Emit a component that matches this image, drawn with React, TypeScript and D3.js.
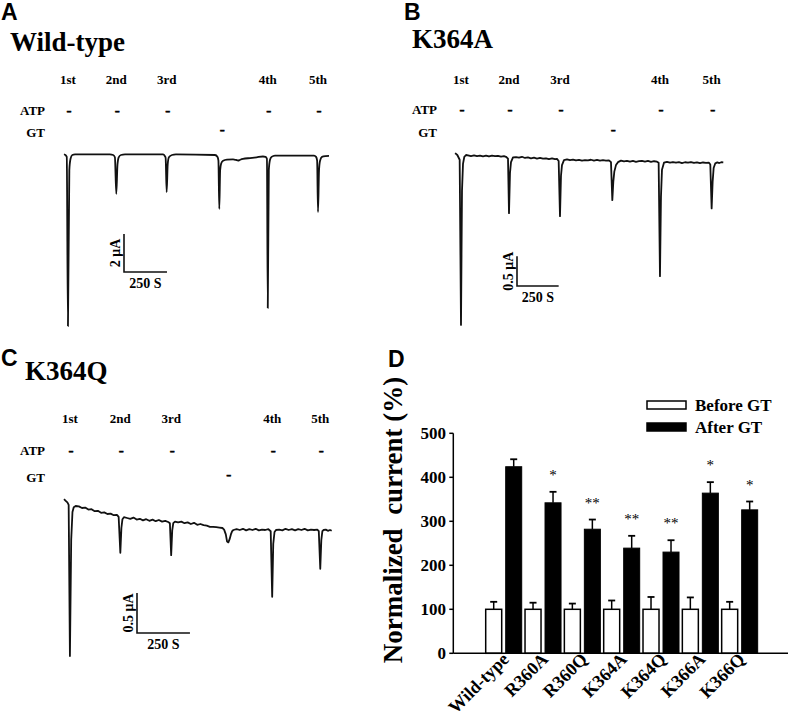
import React from 'react';
import * as d3 from 'd3';

const SERIF = '"Liberation Serif","Times New Roman",Times,serif';
const SANS = '"Liberation Sans",Arial,Helvetica,sans-serif';

// ---------- Panels A-C : current traces (time in s, current in µA) ----------
const pulseLabels = ['1st', '2nd', '3rd', '4th', '5th'];

const traceWT: [number, number][] = [
  [0, 0.04], [8, 0.0], [16, -0.1], [23, -9.0], [31, -0.8], [38, -0.2], [48, 0.0], [64, 0.03],
  [150, 0.03], [267, 0.03], [286, 0.0], [296, -0.12], [304, -2.05], [311, -0.5], [318, -0.12],
  [331, 0.0], [355, 0.03], [576, 0.03], [586, -0.05], [591, -0.15], [597, -1.95], [603, -0.5],
  [610, -0.12], [628, 0.0], [651, 0.03], [878, 0.0], [893, -0.1], [898, -0.3], [903, -2.84],
  [908, -0.8], [914, -0.45], [925, -0.3], [948, -0.24], [983, -0.23], [1000, -0.26], [1012, -0.29],
  [1025, -0.25], [1041, -0.21], [1082, -0.16], [1120, -0.12], [1157, -0.08], [1172, -0.1],
  [1180, -0.2], [1185, -8.05], [1191, -0.8], [1198, -0.25], [1207, -0.1], [1227, -0.03],
  [1454, -0.03], [1466, -0.1], [1472, -0.3], [1477, -3.0], [1483, -0.8], [1489, -0.3],
  [1500, -0.1], [1520, -0.06], [1541, -0.05],
];
const atpTimesWT = [23, 304, 597, 1185, 1477];
const gtTimeWT = 915;

const traceK364A: [number, number][] = [
  [0, 0.03], [6, 0.02], [14, 0.0], [28, -0.08], [36, -2.86], [42, -0.6], [48, -0.15], [56, -0.03],
  [66, 0.0], [78, -0.005], [96, -0.018], [114, -0.008], [132, -0.02], [150, -0.01], [168, -0.022],
  [186, -0.012], [204, -0.025], [222, -0.012], [240, -0.02], [258, -0.014], [276, -0.026],
  [294, -0.018], [306, -0.03], [318, -0.06], [324, -0.98], [330, -0.3], [336, -0.12], [348, -0.04],
  [366, -0.035], [384, -0.045], [402, -0.03], [420, -0.05], [438, -0.04], [456, -0.055],
  [474, -0.045], [492, -0.06], [510, -0.05], [528, -0.062], [546, -0.055], [564, -0.068],
  [582, -0.058], [600, -0.07], [612, -0.065], [622, -0.1], [630, -1.03], [636, -0.35],
  [642, -0.17], [654, -0.085], [672, -0.075], [690, -0.088], [708, -0.078], [726, -0.092],
  [744, -0.082], [762, -0.095], [780, -0.085], [798, -0.09], [816, -0.08], [834, -0.094],
  [852, -0.084], [870, -0.096], [888, -0.088], [906, -0.095], [924, -0.09], [936, -0.12],
  [944, -0.76], [950, -0.45], [956, -0.28], [966, -0.17], [978, -0.12], [996, -0.095],
  [1014, -0.108], [1032, -0.098], [1050, -0.112], [1068, -0.1], [1086, -0.114], [1104, -0.104],
  [1122, -0.098], [1140, -0.11], [1158, -0.1], [1176, -0.115], [1194, -0.105], [1212, -0.112],
  [1222, -0.13], [1230, -2.04], [1236, -0.7], [1242, -0.25], [1254, -0.13], [1272, -0.115],
  [1290, -0.128], [1308, -0.118], [1326, -0.13], [1344, -0.12], [1362, -0.135], [1380, -0.122],
  [1398, -0.13], [1416, -0.118], [1434, -0.132], [1452, -0.125], [1470, -0.136], [1488, -0.126],
  [1506, -0.132], [1524, -0.13], [1532, -0.16], [1540, -0.9], [1546, -0.45], [1552, -0.22],
  [1562, -0.14], [1574, -0.125], [1586, -0.135], [1598, -0.122], [1610, -0.125],
];
const atpTimesK364A = [36, 324, 630, 1230, 1540];
const gtTimeK364A = 944;

const traceK364Q: [number, number][] = [
  [0, 0.01], [8, -0.01], [16, -0.03], [22, -0.06], [28, -1.95], [34, -0.5], [40, -0.15],
  [46, -0.09], [55, -0.075], [70, -0.08], [85, -0.1], [100, -0.095], [115, -0.12], [130, -0.115],
  [145, -0.14], [160, -0.135], [175, -0.16], [190, -0.155], [205, -0.175], [220, -0.17],
  [235, -0.19], [250, -0.185], [258, -0.21], [266, -0.66], [271, -0.35], [276, -0.24],
  [283, -0.215], [298, -0.225], [313, -0.235], [328, -0.22], [343, -0.245], [358, -0.235],
  [373, -0.255], [388, -0.24], [403, -0.26], [418, -0.245], [433, -0.265], [448, -0.25],
  [463, -0.27], [478, -0.26], [492, -0.275], [500, -0.29], [506, -0.69], [511, -0.38],
  [516, -0.29], [524, -0.27], [539, -0.28], [554, -0.27], [569, -0.29], [584, -0.28], [599, -0.3],
  [614, -0.285], [629, -0.31], [644, -0.3], [659, -0.315], [674, -0.32], [689, -0.335],
  [704, -0.335], [719, -0.34], [734, -0.345], [748, -0.35], [756, -0.37], [764, -0.43],
  [770, -0.52], [776, -0.53], [782, -0.49], [788, -0.43], [794, -0.39], [800, -0.375],
  [815, -0.365], [830, -0.375], [845, -0.36], [860, -0.38], [875, -0.365], [890, -0.375],
  [905, -0.36], [920, -0.38], [935, -0.37], [950, -0.375], [965, -0.365], [976, -0.39],
  [983, -1.21], [988, -0.55], [994, -0.4], [1001, -0.375], [1016, -0.37], [1031, -0.38],
  [1046, -0.36], [1061, -0.375], [1076, -0.365], [1091, -0.38], [1106, -0.365], [1121, -0.375],
  [1136, -0.36], [1151, -0.38], [1166, -0.37], [1181, -0.375], [1196, -0.37], [1203, -0.39],
  [1210, -0.86], [1215, -0.5], [1220, -0.39], [1226, -0.375], [1236, -0.37], [1246, -0.385],
  [1256, -0.375], [1264, -0.385],
];
const atpTimesK364Q = [28, 266, 506, 983, 1210];
const gtTimeK364Q = 773;

// ---------- Panel D : normalized current ----------
const mutants = ['Wild-type', 'R360A', 'R360Q', 'K364A', 'K364Q', 'K366A', 'K366Q'];
const beforeGT = [100, 100, 100, 100, 100, 100, 100];
const beforeErr = [17, 15, 13, 20, 28, 27, 17];
const afterGT = [424, 342, 282, 239, 230, 364, 326];
const afterErr = [17, 25, 22, 28, 27, 25, 19];
const significance = ['', '*', '**', '**', '**', '*', '*'];
const yTicks = [0, 100, 200, 300, 400, 500];
const legendLabels = ['Before GT', 'After GT'];

type PanelCfg = {
  letter: string; letterX: number; letterY: number;
  title: string; titleX: number; titleY: number;
  data: [number, number][]; smooth: boolean; tDomain: [number, number]; xRange: [number, number];
  iDomain: [number, number]; yRange: [number, number];
  atp: number[]; gt: number;
  rowLabelY: number; rowAtpY: number; rowGtY: number; rowLabelRight: number;
  barX: number; barY: number; barT: number; barI: number; barILabel: string;
};

function TracePanel({ c }: { c: PanelCfg }) {
  const x = d3.scaleLinear().domain(c.tDomain).range(c.xRange);
  const y = d3.scaleLinear().domain(c.iDomain).range(c.yRange);
  const lineGen = d3.line<[number, number]>().x(d => x(d[0])).y(d => y(d[1]))
    .curve(c.smooth ? d3.curveMonotoneX : d3.curveLinear);
  const barLenX = x(c.barT) - x(0);
  const barLenY = y(-c.barI) - y(0);
  return (
    <g>
      <text x={c.letterX} y={c.letterY} fontFamily={SANS} fontWeight="bold" fontSize={23}>{c.letter}</text>
      <text x={c.titleX} y={c.titleY} fontFamily={SERIF} fontWeight="bold" fontSize={27}>{c.title}</text>
      {c.atp.map((t, i) => (
        <text key={'l' + i} x={x(t)} y={c.rowLabelY} textAnchor="middle" fontFamily={SERIF} fontWeight="bold" fontSize={13}>{pulseLabels[i]}</text>
      ))}
      <text x={c.rowLabelRight} y={c.rowAtpY} textAnchor="end" fontFamily={SERIF} fontWeight="bold" fontSize={13}>ATP</text>
      <text x={c.rowLabelRight} y={c.rowGtY} textAnchor="end" fontFamily={SERIF} fontWeight="bold" fontSize={13}>GT</text>
      {c.atp.map((t, i) => (
        <text key={'d' + i} x={x(t) + 1} y={c.rowAtpY} textAnchor="middle" fontFamily={SERIF} fontWeight="bold" fontSize={15} stroke="#000" strokeWidth={0.6}>-</text>
      ))}
      <text x={x(c.gt) + 1} y={c.rowGtY - 3} textAnchor="middle" fontFamily={SERIF} fontWeight="bold" fontSize={15} stroke="#000" strokeWidth={0.6}>-</text>
      <path d={lineGen(c.data) || ''} fill="none" stroke="#111" strokeWidth={1.8} strokeLinejoin="round" />
      <path d={`M${c.barX},${c.barY - barLenY}V${c.barY}H${c.barX + barLenX}`} fill="none" stroke="#111" strokeWidth={1.6} />
      <text transform={`translate(${c.barX - 4},${c.barY - barLenY / 2}) rotate(-90)`} textAnchor="middle" fontFamily={SERIF} fontWeight="bold" fontSize={14}>{c.barILabel}</text>
      <text x={c.barX + barLenX / 2} y={c.barY + 16} textAnchor="middle" fontFamily={SERIF} fontWeight="bold" fontSize={14}>{c.barT} S</text>
    </g>
  );
}

function BarPanel() {
  const y = d3.scaleLinear().domain([0, 500]).range([653.3, 433.3]);
  const x0 = d3.scaleBand<string>().domain(mutants).range([484.2, 759.5]).padding(0);
  const x1 = d3.scaleBand<string>().domain(['before', 'after']).range([1.5, 37.5]).paddingInner(0.2).paddingOuter(0);
  const axisX = 453.3;
  const bw = x1.bandwidth();
  const capW = 7;
  return (
    <g>
      <text x={388} y={367} fontFamily={SANS} fontWeight="bold" fontSize={23}>D</text>
      <text transform={`translate(402,520) rotate(-90)`} textAnchor="middle" fontFamily={SERIF} fontWeight="bold" fontSize={27} style={{ whiteSpace: 'pre' }}>{'Normalized  current (%)'}</text>
      {mutants.map((m, i) => {
        const gx = x0(m)!;
        const bx = gx + x1('before')!;
        const ax = gx + x1('after')!;
        const bTop = y(beforeGT[i] + beforeErr[i]);
        const aTop = y(afterGT[i] + afterErr[i]);
        return (
          <g key={m}>
            <line x1={bx + bw / 2} x2={bx + bw / 2} y1={y(beforeGT[i])} y2={bTop} stroke="#000" strokeWidth={1.5} />
            <line x1={bx + bw / 2 - capW / 2} x2={bx + bw / 2 + capW / 2} y1={bTop} y2={bTop} stroke="#000" strokeWidth={1.8} />
            <rect x={bx} y={y(beforeGT[i])} width={bw} height={y(0) - y(beforeGT[i])} fill="#fff" stroke="#000" strokeWidth={1.5} />
            <line x1={ax + bw / 2} x2={ax + bw / 2} y1={y(afterGT[i])} y2={aTop} stroke="#000" strokeWidth={1.5} />
            <line x1={ax + bw / 2 - capW / 2} x2={ax + bw / 2 + capW / 2} y1={aTop} y2={aTop} stroke="#000" strokeWidth={1.8} />
            <rect x={ax} y={y(afterGT[i])} width={bw} height={y(0) - y(afterGT[i])} fill="#000" stroke="#000" strokeWidth={1} />
            {significance[i] && (
              <text x={ax + bw / 2} y={aTop - 12} textAnchor="middle" fontFamily={SERIF} fontSize={15} fill="#000">{significance[i]}</text>
            )}
            <text transform={`translate(${gx + x0.bandwidth() / 2 + 6},${y(0) + 7}) rotate(-45)`} textAnchor="end" fontFamily={SERIF} fontWeight="bold" fontSize={18}>{m}</text>
          </g>
        );
      })}
      <line x1={axisX} x2={axisX} y1={y(0)} y2={y(500)} stroke="#000" strokeWidth={1.5} />
      <line x1={axisX} x2={788} y1={y(0)} y2={y(0)} stroke="#000" strokeWidth={1.5} />
      {yTicks.map(t => (
        <g key={t}>
          <line x1={axisX - 4} x2={axisX} y1={y(t)} y2={y(t)} stroke="#000" strokeWidth={1.5} />
          <text x={446} y={y(t)} dy="0.35em" textAnchor="end" fontFamily={SERIF} fontWeight="bold" fontSize={17}>{t}</text>
        </g>
      ))}
      <rect x={647} y={401} width={39} height={8} fill="#fff" stroke="#000" strokeWidth={1.5} />
      <text x={695} y={411} fontFamily={SERIF} fontWeight="bold" fontSize={17}>{legendLabels[0]}</text>
      <rect x={647} y={423} width={39} height={8} fill="#000" stroke="#000" strokeWidth={1.5} />
      <text x={695} y={433} fontFamily={SERIF} fontWeight="bold" fontSize={17}>{legendLabels[1]}</text>
    </g>
  );
}

const panels: PanelCfg[] = [
  {
    letter: 'A', letterX: 1, letterY: 20, title: 'Wild-type', titleX: 10, titleY: 51,
    data: traceWT, smooth: true, tDomain: [0, 1541], xRange: [64, 329], iDomain: [0, -9], yRange: [155, 326],
    atp: atpTimesWT, gt: gtTimeWT, rowLabelY: 84, rowAtpY: 115, rowGtY: 137, rowLabelRight: 45,
    barX: 124, barY: 272, barT: 250, barI: 2, barILabel: '2 μA',
  },
  {
    letter: 'B', letterX: 404, letterY: 20, title: 'K364A', titleX: 412, titleY: 48,
    data: traceK364A, smooth: false, tDomain: [0, 1610], xRange: [455, 723.3], iDomain: [0, -0.5], yRange: [155, 184.7],
    atp: atpTimesK364A, gt: gtTimeK364A, rowLabelY: 84, rowAtpY: 114, rowGtY: 137, rowLabelRight: 437,
    barX: 517, barY: 286, barT: 250, barI: 0.5, barILabel: '0.5 μA',
  },
  {
    letter: 'C', letterX: 1, letterY: 366, title: 'K364Q', titleX: 25, titleY: 380,
    data: traceK364Q, smooth: false, tDomain: [0, 1264], xRange: [64, 331.7], iDomain: [0, -0.5], yRange: [500, 540],
    atp: atpTimesK364Q, gt: gtTimeK364Q, rowLabelY: 423, rowAtpY: 455, rowGtY: 482, rowLabelRight: 45,
    barX: 137, barY: 633, barT: 250, barI: 0.5, barILabel: '0.5 μA',
  },
];

export default function App() {
  return (
    <svg width={791} height={716} viewBox="0 0 791 716" style={{ position: 'absolute', left: 0, top: 0, background: '#fff' }}>
      <rect width={791} height={716} fill="#fff" />
      {panels.map(p => <TracePanel key={p.letter} c={p} />)}
      <BarPanel />
    </svg>
  );
}
